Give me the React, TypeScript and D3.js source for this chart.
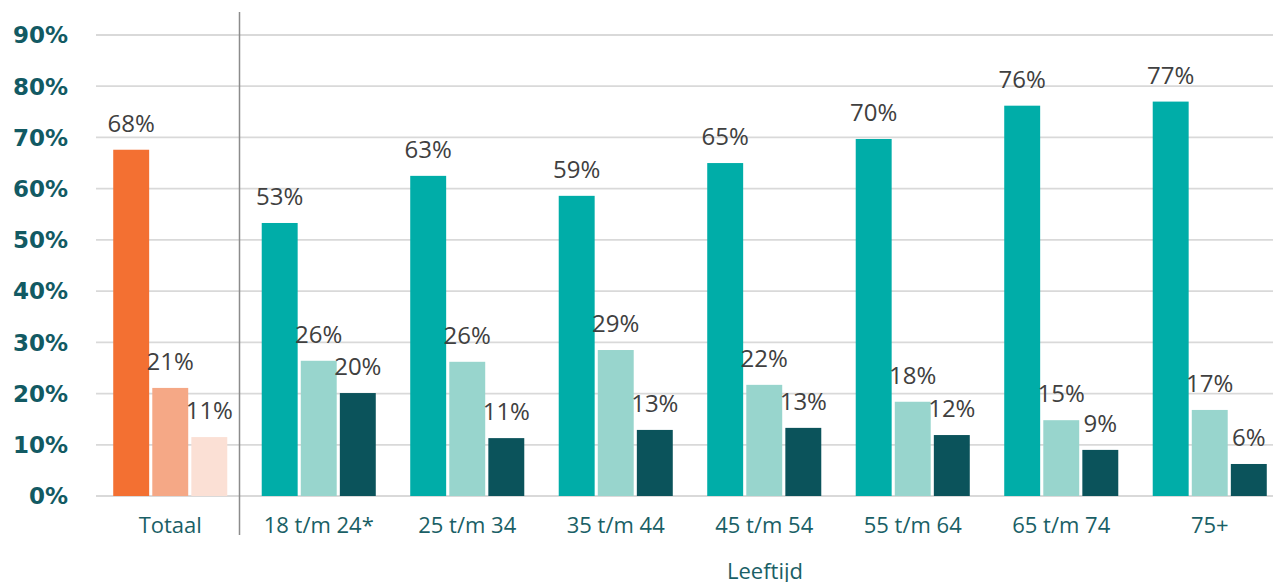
import React, { useEffect, useRef } from "react";
import * as d3 from "d3";

const categories = ["Totaal", "18 t/m 24*", "25 t/m 34", "35 t/m 44", "45 t/m 54", "55 t/m 64", "65 t/m 74", "75+"];
const seriesA = [67.6, 53.3, 62.5, 58.6, 65.0, 69.7, 76.2, 77.0];
const seriesB = [21.1, 26.4, 26.2, 28.5, 21.7, 18.4, 14.8, 16.8];
const seriesC = [11.5, 20.1, 11.3, 12.9, 13.3, 11.9, 9.0, 6.25];
const labelsA = [68, 53, 63, 59, 65, 70, 76, 77];
const labelsB = [21, 26, 26, 29, 22, 18, 15, 17];
const labelsC = [11, 20, 11, 13, 13, 12, 9, 6];
const yTicks = [0, 10, 20, 30, 40, 50, 60, 70, 80, 90];
const xTitle = "Leeftijd";

const totalColors = ["#F37032", "#F5A886", "#FBE0D5"];
const ageColors = ["#00ADA8", "#98D5CD", "#0B535B"];

export default function App() {
  const ref = useRef<SVGSVGElement>(null);
  useEffect(() => {
    const svg = d3.select(ref.current);
    svg.selectAll("*").remove();
    const W = 1273;
    const left = 96, right = 1284, top = 35, bottom = 496;
    const x = d3.scaleBand<string>().domain(categories).range([left, right]).paddingInner(0.232).paddingOuter(0.116);
    const y = d3.scaleLinear().domain([0, 90]).range([bottom, top]);
    const sub = d3.scaleBand<number>().domain([0, 1, 2]).range([0, x.bandwidth()]).paddingInner(0.08);
    const font = "'Open Sans', sans-serif";

    svg.append("g").selectAll("line").data(yTicks).join("line")
      .attr("x1", left).attr("x2", W).attr("y1", d => y(d)).attr("y2", d => y(d))
      .attr("stroke", "#d9d9d9").attr("stroke-width", 1.8);

    svg.append("g").selectAll("text").data(yTicks).join("text")
      .attr("x", 68).attr("y", d => y(d)).attr("dy", "0.36em")
      .attr("text-anchor", "end").attr("font-family", "'DejaVu Sans', sans-serif").attr("font-weight", 700)
      .attr("font-size", 23).attr("fill", "#125A63").text(d => `${d}%`);

    svg.append("line").attr("x1", 239.5).attr("x2", 239.5).attr("y1", 12).attr("y2", 535)
      .attr("stroke", "#8c8c8c").attr("stroke-width", 1.5);

    const series = [seriesA, seriesB, seriesC];
    const labels = [labelsA, labelsB, labelsC];
    const g = svg.append("g");
    categories.forEach((c, i) => {
      series.forEach((s, k) => {
        const bx = (x(c) as number) + (sub(k) as number);
        const bw = sub.bandwidth();
        g.append("rect").attr("x", bx).attr("width", bw)
          .attr("y", y(s[i])).attr("height", y(0) - y(s[i]))
          .attr("fill", i === 0 ? totalColors[k] : ageColors[k]);
        g.append("text").attr("x", bx + bw / 2).attr("y", y(s[i]) - 18)
          .attr("text-anchor", "middle").attr("font-family", font)
          .attr("font-size", 24).attr("fill", "#404040").text(`${labels[k][i]}%`);
      });
      svg.append("text").attr("x", (x(c) as number) + x.bandwidth() / 2).attr("y", 533)
        .attr("text-anchor", "middle").attr("font-family", font).attr("font-size", 22)
        .attr("fill", "#1A5F66").text(c);
    });

    svg.append("text").attr("x", 765).attr("y", 579).attr("text-anchor", "middle")
      .attr("font-family", font).attr("font-size", 22).attr("fill", "#1A5F66").text(xTitle);
  }, []);
  return (
    <svg ref={ref} width={1273} height={582}
      style={{ position: "absolute", left: 0, top: 0, display: "block", background: "#fff" }} />
  );
}
